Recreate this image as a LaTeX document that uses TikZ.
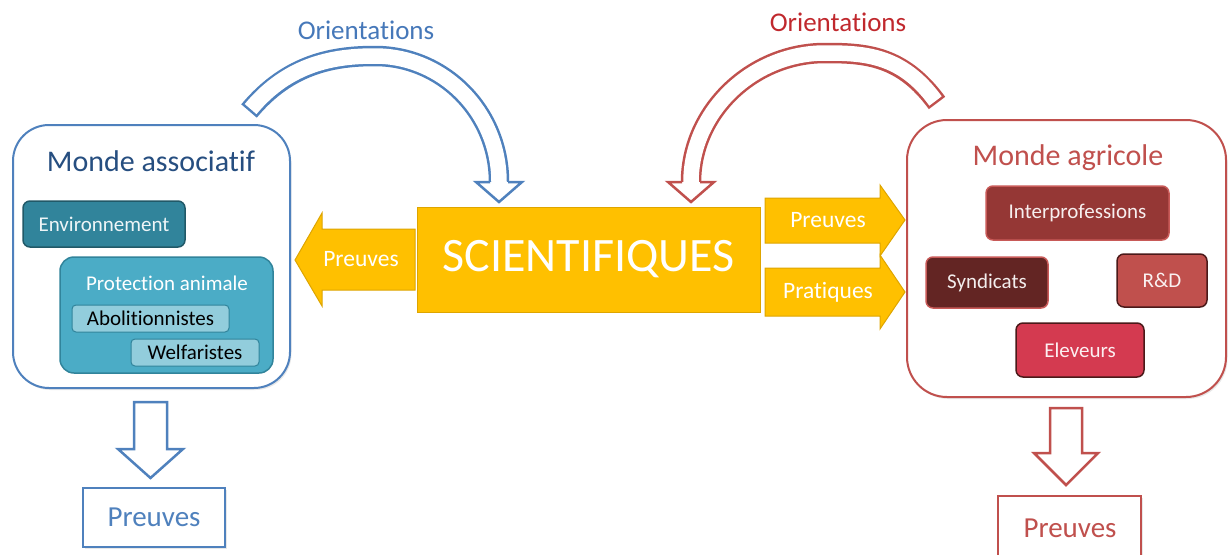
\documentclass[tikz,border=0pt]{standalone}
\usepackage{fontspec}
\setmainfont{Carlito}[Ligatures={NoCommon,NoContextual}]
\usetikzlibrary{shadows}
\definecolor{ablue}{RGB}{79,129,189}
\definecolor{oblue}{RGB}{70,120,185}
\definecolor{adarkblue}{RGB}{38,78,128}
\definecolor{ared}{RGB}{192,80,77}
\definecolor{ored}{RGB}{192,40,45}
\definecolor{gold}{RGB}{255,192,0}
\definecolor{goldb}{RGB}{222,165,0}
\definecolor{tealA}{RGB}{49,132,155}
\definecolor{tealAb}{RGB}{33,89,104}
\definecolor{tealB}{RGB}{75,172,198}
\definecolor{tealC}{RGB}{146,205,220}
\definecolor{rInter}{RGB}{149,55,53}
\definecolor{rSynd}{RGB}{99,37,35}
\definecolor{rRD}{RGB}{192,80,77}
\definecolor{rElev}{RGB}{212,58,80}
\definecolor{rDark}{RGB}{75,25,25}
\definecolor{rLight}{RGB}{200,90,88}
\begin{document}
\begin{tikzpicture}[x=1pt,y=-1pt,
  softshadow/.style={drop shadow={opacity=0.18, shadow xshift=1.5pt, shadow yshift=-2pt}},
  bigbox/.style={draw, line width=2pt, rounded corners=36pt, fill=white, inner sep=0pt, softshadow},
  inbox/.style={rounded corners=7pt, line width=1.5pt, inner sep=0pt, font=\fontsize{21}{24}\selectfont},
  title/.style={font=\fontsize{30}{34}\selectfont, inner sep=0pt},
  ytext/.style={text=white, font=\fontsize{23.5}{27}\selectfont, inner sep=0pt},
  yarrow/.style={fill=gold, draw=goldb, line width=1pt, line join=miter},
  warrowb/.style={fill=white, draw=ablue, line width=2.5pt, line join=miter},
  warrowr/.style={fill=white, draw=ared, line width=2.5pt, line join=miter},
  orient/.style={font=\fontsize{27}{30}\selectfont, inner sep=0pt},
  outbox/.style={fill=white, line width=2pt, inner sep=0pt, softshadow}
]
\useasboundingbox (0,0) rectangle (1228,554);
\clip (0,0) rectangle (1228,554);

% ---- curved arrow (blue, left) ----
\coordinate (bt) at (249,111);
\coordinate (bs) at (499,182);
\draw[ablue, line width=20.5pt] (bt) .. controls (289,63) and (335,56) .. (375,56) .. controls (443,56) and (499,112) .. (bs);
\draw[white, line width=15.5pt, shorten <=2.5pt] (bt) .. controls (289,63) and (335,56) .. (375,56) .. controls (443,56) and (499,112) .. (bs);
\filldraw[warrowb] (490,182) -- (476,182) -- (499,202) -- (522,182) -- (508,182);
\node[orient, text=oblue] (orb) at (366,30) {Orientations};

% ---- curved arrow (red, right) ----
\coordinate (rt) at (937,103);
\coordinate (rs) at (691,182);
\draw[ared, line width=20.5pt] (rt) .. controls (902,55) and (865,53) .. (825,53) .. controls (752,53) and (691,112) .. (rs);
\draw[white, line width=15.5pt, shorten <=2.5pt] (rt) .. controls (902,55) and (865,53) .. (825,53) .. controls (752,53) and (691,112) .. (rs);
\filldraw[warrowr] (700,182) -- (714,182) -- (691,202) -- (668,182) -- (682,182);
\node[orient, text=ored] (orr) at (838,22) {Orientations};

% ---- yellow arrows ----
\filldraw[yarrow] (415,229) -- (322,229) -- (322,213) -- (295,260) -- (322,306) -- (322,290) -- (415,290) -- cycle;
\node[ytext] (pl) at (361,259) {Preuves};
\filldraw[yarrow] (765,198) -- (880,198) -- (880,185) -- (905,220) -- (880,256) -- (880,243) -- (765,243) -- cycle;
\node[ytext] (pr) at (828,220) {Preuves};
\filldraw[yarrow] (765,268) -- (880,268) -- (880,255) -- (905,292) -- (880,329) -- (880,316) -- (765,316) -- cycle;
\node[ytext] (pp) at (828,292) {Pratiques};

% ---- central box ----
\node[fill=gold, draw=goldb, line width=1pt, minimum width=343pt, minimum height=105pt, inner sep=0pt,
      text=white, font=\fontsize{48}{52}\selectfont] (sci) at (588.5,259.5) {SCIENTIFIQUES};

% ---- left world ----
\node[bigbox, draw=ablue, minimum width=277pt, minimum height=263pt] (assoc) at (151.5,256.5) {};
\node[title, text=adarkblue] (assoct) at (151,161) {Monde associatif};
\node[inbox, fill=tealA, draw=tealAb, minimum width=162pt, minimum height=46pt, text=white!92!tealA] (env) at (104,224) {Environnement};
\node[inbox, fill=tealB, draw=tealA, rounded corners=14pt, minimum width=213pt, minimum height=116pt] (prot) at (166.5,315) {};
\node[inbox, text=white] (prott) at (167,283) {Protection animale};
\node[inbox, fill=tealC, draw=tealA, rounded corners=4pt, line width=1pt, minimum width=157pt, minimum height=27pt, text=black] (abo) at (150.5,318.5) {Abolitionnistes};
\node[inbox, fill=tealC, draw=tealA, rounded corners=4pt, line width=1pt, minimum width=128pt, minimum height=27pt, text=black] (wel) at (195,352.5) {Welfaristes};

% ---- right world ----
\node[bigbox, draw=ared, rounded corners=40pt, minimum width=319pt, minimum height=277pt] (agri) at (1066.5,258.5) {};
\node[title, text=ared] (agrit) at (1068,158) {Monde agricole};
\node[inbox, fill=rInter, draw=rLight, minimum width=183pt, minimum height=54pt, text=white!92!rInter] (inter) at (1077.5,213) {Interprofessions};
\node[inbox, fill=rSynd, draw=rLight, minimum width=122pt, minimum height=51pt, text=white!92!rSynd] (synd) at (987,282.5) {Syndicats};
\node[inbox, fill=rRD, draw=rDark, minimum width=90pt, minimum height=53pt, text=white!92!rRD] (rd) at (1162,280.5) {R\&D};
\node[inbox, fill=rElev, draw=rDark, minimum width=128pt, minimum height=54pt, text=white!92!rElev] (elev) at (1080,350) {Eleveurs};

% ---- bottom outputs ----
\filldraw[warrowb] (134,402) -- (167,402) -- (167,449) -- (183,449) -- (150.5,478) -- (118,449) -- (134,449) -- cycle;
\node[outbox, draw=ablue, minimum width=142pt, minimum height=59pt, text=ablue, font=\fontsize{29}{32}\selectfont] (outl) at (154,517.5) {Preuves};

\filldraw[warrowr] (1050,408) -- (1082,408) -- (1082,453) -- (1098,453) -- (1066,485) -- (1034,453) -- (1050,453) -- cycle;
\node[outbox, draw=ared, minimum width=143pt, minimum height=90pt] (outr) at (1069.5,541) {};
\node[text=ared, font=\fontsize{29}{32}\selectfont, inner sep=0pt] (outrt) at (1070,528) {Preuves};
\end{tikzpicture}
\end{document}
